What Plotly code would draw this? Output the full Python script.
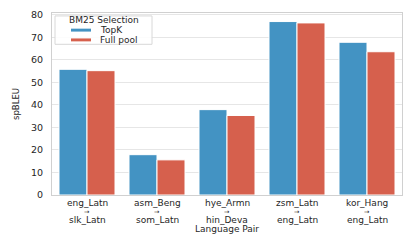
import plotly.graph_objects as go

src_langs = ["eng_Latn", "asm_Beng", "hye_Armn", "zsm_Latn", "kor_Hang"]
tgt_langs = ["slk_Latn", "som_Latn", "hin_Deva", "eng_Latn", "eng_Latn"]
categories = [f"{s}→{t}" for s, t in zip(src_langs, tgt_langs)]
topk = [55.8, 17.9, 37.9, 77.0, 67.8]
full_pool = [55.2, 15.6, 35.3, 76.4, 63.6]
series_names = ["TopK", "Full pool"]
series_colors = ["#4393c3", "#d6604d"]
y_ticks = [0, 10, 20, 30, 40, 50, 60, 70, 80]

FONT = "DejaVu Sans"
TXT = "#262626"
OFF = 8  # default page body margin
W, H = 399, 226
L, R, T, B = 44, 5, 1, 39
PW, PH = W - L - R, H - T - B
PLOT_LEFT = OFF + L
PLOT_BOTTOM = OFF + H - B

def px_x(px):
    return (px - PLOT_LEFT) / PW

def px_y(py):
    return (PLOT_BOTTOM - py) / PH

fig = go.Figure()
for name, vals, col in zip(series_names, [topk, full_pool], series_colors):
    fig.add_trace(go.Bar(x=categories, y=vals, name=name,
                         marker=dict(color=col, line=dict(color="white", width=1))))

annotations = []
for cat, s, t in zip(categories, src_langs, tgt_langs):
    for txt, dy, fs in [(s, -8, 9), ("→", -16.5, 6.5), (t, -25, 9)]:
        annotations.append(dict(x=cat, xref="x", y=0, yref="paper", text=txt, showarrow=False,
                                yanchor="middle", yshift=dy, font=dict(family=FONT, size=fs, color=TXT)))
annotations.append(dict(x=0.5, xref="paper", y=0, yref="paper", text="Language Pair", showarrow=False,
                        yanchor="middle", yshift=-34, font=dict(family=FONT, size=9, color=TXT)))

# custom legend
shapes = [dict(type="rect", xref="paper", yref="paper", x0=px_x(55), x1=px_x(152), y0=px_y(41), y1=px_y(12),
               fillcolor="rgba(255,255,255,0.85)", line=dict(color="#d8d8d8", width=1), layer="above")]
annotations.append(dict(x=px_x(103.5), xref="paper", y=px_y(16.5), yref="paper", text="BM25 Selection",
                        showarrow=False, xanchor="center", yanchor="middle",
                        font=dict(family=FONT, size=9, color=TXT)))
for i, (name, col) in enumerate(zip(series_names, series_colors)):
    yc = 26.5 + 10 * i
    shapes.append(dict(type="rect", xref="paper", yref="paper", x0=px_x(71), x1=px_x(91),
                       y0=px_y(yc + 1.5), y1=px_y(yc - 1.5), fillcolor=col, line=dict(width=0), layer="above"))
    annotations.append(dict(x=px_x(98), xref="paper", y=px_y(yc), yref="paper", text=name, showarrow=False,
                            xanchor="left", yanchor="middle", font=dict(family=FONT, size=9, color=TXT)))

fig.update_layout(
    width=W, height=H,
    margin=dict(l=L, r=R, t=T, b=B),
    paper_bgcolor="white", plot_bgcolor="white",
    font=dict(family=FONT, size=9, color=TXT),
    barmode="group", bargap=0.2, bargroupgap=0,
    showlegend=False,
    annotations=annotations, shapes=shapes,
)
fig.update_xaxes(
    showline=True, linecolor="#d0d0d0", linewidth=1, mirror=True,
    showgrid=False, ticks="", showticklabels=False,
)
fig.update_yaxes(
    range=[0, 80.8], tickvals=y_ticks,
    showline=True, linecolor="#d0d0d0", linewidth=1, mirror=True,
    showgrid=True, gridcolor="#e6e6e6", gridwidth=1, zeroline=False,
    ticks="", tickfont=dict(size=9.5), ticklabelstandoff=6, ticklabeloverflow="allow",
    title=dict(text="spBLEU", font=dict(size=8.5), standoff=10),
)
fig.write_html("out.html")
